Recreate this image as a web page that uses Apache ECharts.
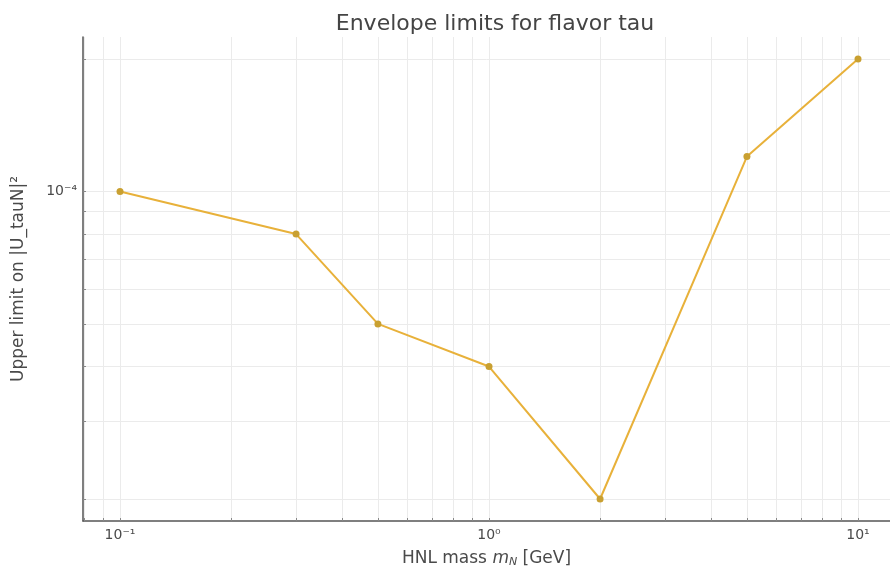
<!DOCTYPE html>
<html>
<head>
<meta charset="utf-8">
<script src="https://cdn.jsdelivr.net/npm/echarts@6/dist/echarts.min.js"></script>
<style>html,body{margin:0;padding:0;background:#fff}#c{width:890px;height:571px}</style>
</head>
<body>
<div id="c"></div>
<script>
const massGeV = [0.1, 0.3, 0.5, 1, 2, 5, 10];
const upperLimit = [1e-4, 8e-5, 5e-5, 4e-5, 2e-5, 1.2e-4, 2e-4];

const xMajorTicks = [0.1, 1, 10];
const xMajorLabels = ['10\u207B\u00B9', '10\u2070', '10\u00B9'];
const xAllTicks = [0.08, 0.09, 0.1, 0.2, 0.3, 0.4, 0.5, 0.6, 0.7, 0.8, 0.9, 1, 2, 3, 4, 5, 6, 7, 8, 9, 10];
const yMajorTicks = [1e-4];
const yMajorLabels = ['10\u207B\u2074'];
const yAllTicks = [2e-5, 3e-5, 4e-5, 5e-5, 6e-5, 7e-5, 8e-5, 9e-5, 1e-4, 2e-4];

const xMin = Math.pow(10, -1.1003), xMax = Math.pow(10, 1.0867);
const yMin = Math.pow(10, -4.749), yMax = Math.pow(10, -3.649);

function lookup(ticks, labels, v) {
  for (let i = 0; i < ticks.length; i++) {
    if (Math.abs(Math.log10(v) - Math.log10(ticks[i])) < 1e-6) return labels[i];
  }
  return '';
}

const chart = echarts.init(document.getElementById('c'), null, {renderer: 'canvas'});
const font = 'DejaVu Sans';
chart.setOption({
  animation: false,
  backgroundColor: '#ffffff',
  textStyle: {fontFamily: font},
  title: {
    text: 'Envelope limits for flavor tau',
    left: 490, top: 8, textAlign: 'center',
    textStyle: {fontFamily: font, fontSize: 22, fontWeight: 'normal', color: '#444'}
  },
  grid: {left: 83, right: 0, top: 37, bottom: 50, containLabel: false, outerBoundsMode: 'none'},
  xAxis: {
    type: 'log', logBase: 10, min: xMin, max: xMax,
    name: 'HNL mass {i|m}{s|N} [GeV]',
    nameLocation: 'middle', nameGap: 28,
    nameTextStyle: {
      fontFamily: font, fontSize: 17, color: '#4a4a4a',
      rich: {i: {fontStyle: 'italic', fontSize: 17, color: '#4a4a4a', fontFamily: font},
             s: {fontStyle: 'italic', fontSize: 11, color: '#4a4a4a', verticalAlign: 'bottom', padding: [8,0,0,0], fontFamily: font}}
    },
    axisLine: {show: true, onZero: false, lineStyle: {color: '#555', width: 1.5}},
    axisTick: {show: true, inside: true, length: 3, customValues: xAllTicks, lineStyle: {color: '#888'}},
    axisLabel: {customValues: xMajorTicks, color: '#4a4a4a', fontSize: 14, fontFamily: font, margin: 7,
      formatter: v => lookup(xMajorTicks, xMajorLabels, v)},
    splitLine: {show: true, lineStyle: {color: '#ebebeb', width: 1}}
  },
  yAxis: {
    type: 'log', logBase: 10, min: yMin, max: yMax,
    name: 'Upper limit on |U_tauN|\u00B2',
    nameLocation: 'middle', nameGap: 56,
    nameTextStyle: {fontFamily: font, fontSize: 17, color: '#4a4a4a'},
    axisLine: {show: true, onZero: false, lineStyle: {color: '#555', width: 1.5}},
    axisTick: {show: true, inside: true, length: 3, customValues: yAllTicks, lineStyle: {color: '#888'}},
    axisLabel: {customValues: yMajorTicks, color: '#4a4a4a', fontSize: 14, fontFamily: font, margin: 6,
      formatter: v => lookup(yMajorTicks, yMajorLabels, v)},
    splitLine: {show: true, lineStyle: {color: '#ebebeb', width: 1}}
  },
  series: [{
    type: 'line',
    data: massGeV.map((m, i) => [m, upperLimit[i]]),
    symbol: 'circle', symbolSize: 7,
    lineStyle: {color: '#E8B13A', width: 2},
    itemStyle: {color: '#C9A031'},
    z: 5
  }]
});
</script>
</body>
</html>
